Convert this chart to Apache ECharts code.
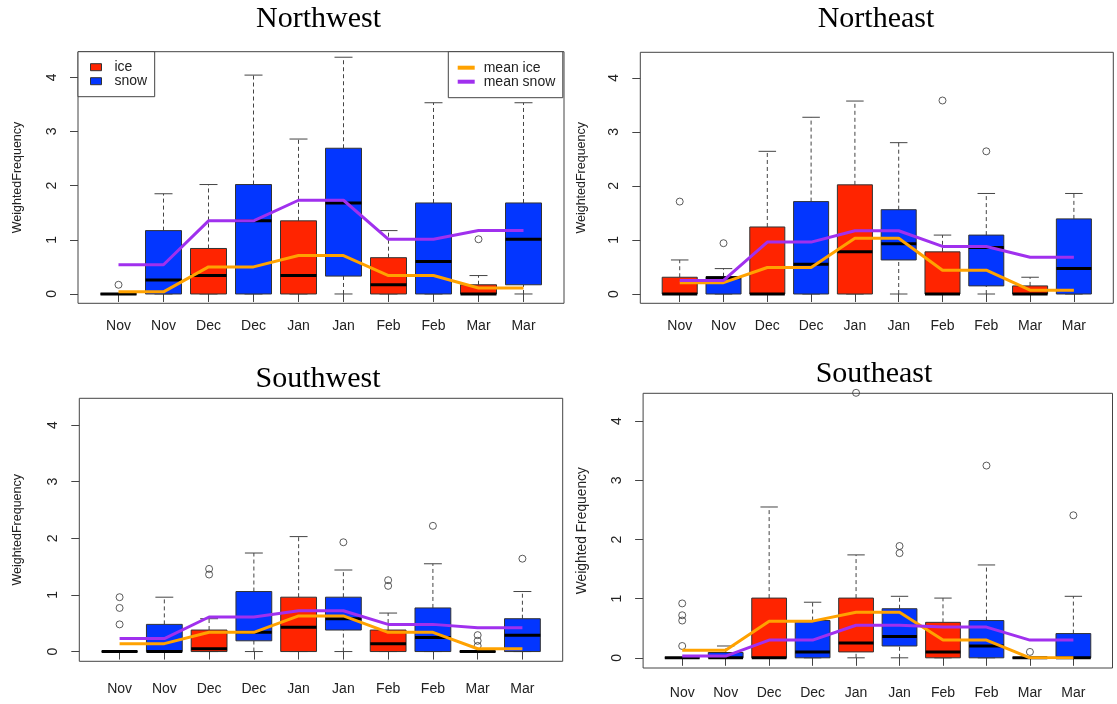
<!DOCTYPE html>
<html>
<head>
<meta charset="utf-8">
<script src="https://cdn.jsdelivr.net/npm/echarts@6/dist/echarts.min.js"></script>
<style>
  html, body { margin: 0; padding: 0; background: #fff; }
  #chart { width: 1117px; height: 704px; }
</style>
</head>
<body>
<div id="chart"></div>
<script>
// Box order alternates ice / snow for each month
const months = ['Nov', 'Nov', 'Dec', 'Dec', 'Jan', 'Jan', 'Feb', 'Feb', 'Mar', 'Mar'];
const yTicks = [0, 1, 2, 3, 4];

// Box stats per position: [lower whisker, Q1, median, Q3, upper whisker]
const nwBoxes = [
  [0, 0, 0, 0, 0],
  [0, 0, 0.26, 1.17, 1.85],
  [0, 0, 0.34, 0.84, 2.02],
  [0, 0, 1.35, 2.02, 4.04],
  [0, 0, 0.34, 1.35, 2.86],
  [0, 0.33, 1.68, 2.69, 4.37],
  [0, 0, 0.17, 0.67, 1.17],
  [0, 0, 0.60, 1.68, 3.53],
  [0, 0, 0, 0.17, 0.34],
  [0, 0.17, 1.01, 1.68, 3.53]
];
const nwOutliers = [[0, 0.17], [8, 1.01]];
const nwMeanIce = [0.04, 0.04, 0.50, 0.50, 0.71, 0.71, 0.34, 0.34, 0.11, 0.11];
const nwMeanSnow = [0.54, 0.54, 1.35, 1.35, 1.73, 1.73, 1.01, 1.01, 1.17, 1.17];

const neBoxes = [
  [0, 0, 0, 0.31, 0.63],
  [0, 0, 0.30, 0.32, 0.47],
  [0, 0, 0, 1.24, 2.64],
  [0, 0, 0.55, 1.71, 3.27],
  [0, 0, 0.78, 2.02, 3.57],
  [0, 0.63, 0.93, 1.56, 2.80],
  [0, 0, 0, 0.78, 1.09],
  [0, 0.15, 0.86, 1.09, 1.86],
  [0, 0, 0, 0.15, 0.31],
  [0, 0, 0.47, 1.39, 1.86]
];
const neOutliers = [[0, 1.71], [1, 0.94], [6, 3.58], [7, 2.64]];
const neMeanIce = [0.21, 0.21, 0.49, 0.49, 1.03, 1.03, 0.44, 0.44, 0.07, 0.07];
const neMeanSnow = [0.25, 0.25, 0.96, 0.96, 1.17, 1.17, 0.88, 0.88, 0.68, 0.68];

const swBoxes = [
  [0, 0, 0, 0, 0],
  [0, 0, 0, 0.48, 0.96],
  [0, 0, 0.05, 0.38, 0.58],
  [0, 0.19, 0.34, 1.06, 1.74],
  [0, 0, 0.43, 0.96, 2.03],
  [0, 0.38, 0.58, 0.96, 1.44],
  [0, 0, 0.14, 0.38, 0.68],
  [0, 0, 0.25, 0.77, 1.55],
  [0, 0, 0, 0, 0],
  [0, 0, 0.29, 0.58, 1.06]
];
const swOutliers = [[0, 0.48], [0, 0.77], [0, 0.96], [2, 1.36], [2, 1.46], [5, 1.93],
  [6, 1.16], [6, 1.26], [7, 2.22], [8, 0.10], [8, 0.19], [8, 0.29], [9, 1.64]];
const swMeanIce = [0.14, 0.14, 0.34, 0.34, 0.63, 0.63, 0.34, 0.34, 0.05, 0.05];
const swMeanSnow = [0.23, 0.23, 0.61, 0.61, 0.72, 0.72, 0.48, 0.48, 0.42, 0.42];

const seBoxes = [
  [0, 0, 0, 0, 0],
  [0, 0, 0, 0.09, 0.20],
  [0, 0, 0, 1.01, 2.55],
  [0, 0, 0.10, 0.63, 0.94],
  [0, 0.10, 0.25, 1.01, 1.74],
  [0, 0.20, 0.36, 0.83, 1.04],
  [0, 0, 0.10, 0.60, 1.01],
  [0, 0, 0.20, 0.63, 1.57],
  [0, 0, 0, 0, 0],
  [0, 0, 0, 0.41, 1.04]
];
const seOutliers = [[0, 0.20], [0, 0.63], [0, 0.72], [0, 0.92], [4, 4.48], [5, 1.77], [5, 1.89],
  [7, 3.25], [8, 0.10], [9, 2.41]];
const seMeanIce = [0.13, 0.13, 0.62, 0.62, 0.77, 0.77, 0.30, 0.30, 0, 0];
const seMeanSnow = [0.03, 0.03, 0.30, 0.30, 0.55, 0.55, 0.52, 0.52, 0.30, 0.30];

const regions = [
  { name: 'Northwest', ylab: 'WeightedFrequency', boxes: nwBoxes, outliers: nwOutliers, meanIce: nwMeanIce, meanSnow: nwMeanSnow },
  { name: 'Northeast', ylab: 'WeightedFrequency', boxes: neBoxes, outliers: neOutliers, meanIce: neMeanIce, meanSnow: neMeanSnow },
  { name: 'Southwest', ylab: 'WeightedFrequency', boxes: swBoxes, outliers: swOutliers, meanIce: swMeanIce, meanSnow: swMeanSnow },
  { name: 'Southeast', ylab: 'Weighted Frequency', boxes: seBoxes, outliers: seOutliers, meanIce: seMeanIce, meanSnow: seMeanSnow }
];

// Panel frames (plot box in pixels) and text placement
const layout = [
  { frame: { l: 78, r: 564, t: 51.7, b: 303.3 }, titleX: 318.5, titleTop: 4, yNameGap: 53.5, yNameSize: 12.5, xLabelMargin: 16 },
  { frame: { l: 640.3, r: 1113.3, t: 52.3, b: 303.3 }, titleX: 876, titleTop: 4, yNameGap: 52, yNameSize: 12.5, xLabelMargin: 16 },
  { frame: { l: 79.3, r: 562.7, t: 398.3, b: 661.3 }, titleX: 318, titleTop: 364, yNameGap: 55, yNameSize: 12.5, xLabelMargin: 21 },
  { frame: { l: 643.1, r: 1112.5, t: 393.3, b: 668 }, titleX: 874, titleTop: 359, yNameGap: 53.5, yNameSize: 13.8, xLabelMargin: 18 }
];

const ICE = '#ff2400';
const SNOW = '#0336ff';
const MEAN_ICE = '#ffa200';
const MEAN_SNOW = '#a030ee';
const SANS = 'Liberation Sans, Arial, sans-serif';
const SERIF = 'Liberation Serif, Times New Roman, serif';

// Plot box spans box positions 0.1..10.9 and values ylim c(0, 4.3) padded by 4%
const X_LO = 0.1, X_HI = 10.9;
const Y_LO = -0.172, Y_HI = 4.472;

function innerRect(f) {
  const sx = (f.r - f.l) / (X_HI - X_LO);
  const sy = (f.b - f.t) / (Y_HI - Y_LO);
  return {
    left: f.l + (0.5 - X_LO) * sx,
    right: f.l + (10.5 - X_LO) * sx,
    top: f.t + (Y_HI - yTicks[yTicks.length - 1]) * sy,
    bottom: f.b - (yTicks[0] - Y_LO) * sy
  };
}

function renderBox(params, api) {
  const i = api.value(0);
  const lo = api.value(1), q1 = api.value(2), med = api.value(3), q3 = api.value(4), hi = api.value(5);
  const half = api.size([1, 0])[0] * 0.4;
  const cap = half * 0.5;
  const cx = api.coord([i, 0])[0];
  const y = v => api.coord([i, v])[1];
  const fill = api.visual('color');
  const dashed = { stroke: '#444', lineWidth: 1, lineDash: [4, 3] };
  const solid = { stroke: '#444', lineWidth: 1 };
  return {
    type: 'group',
    children: [
      { type: 'line', shape: { x1: cx, y1: y(q3), x2: cx, y2: y(hi) }, style: dashed },
      { type: 'line', shape: { x1: cx, y1: y(lo), x2: cx, y2: y(q1) }, style: dashed },
      { type: 'line', shape: { x1: cx - cap, y1: y(hi), x2: cx + cap, y2: y(hi) }, style: solid },
      { type: 'line', shape: { x1: cx - cap, y1: y(lo), x2: cx + cap, y2: y(lo) }, style: solid },
      { type: 'rect', shape: { x: cx - half, y: y(q3), width: 2 * half, height: y(q1) - y(q3) },
        style: { fill: fill, stroke: '#333', lineWidth: 1 } },
      { type: 'line', shape: { x1: cx - half, y1: y(med), x2: cx + half, y2: y(med) },
        style: { stroke: '#000', lineWidth: 3 } }
    ]
  };
}

const grid = [], xAxis = [], yAxis = [], series = [], title = [];

regions.forEach((reg, k) => {
  const L = layout[k];
  const f = L.frame;
  const d = innerRect(f);
  const fi = 2 * k, di = 2 * k + 1;

  title.push({
    text: reg.name, left: L.titleX, top: L.titleTop, textAlign: 'center', padding: 0,
    textStyle: { fontFamily: SERIF, fontSize: 30, fontWeight: 'normal', color: '#000' }
  });

  // frame grid: draws the plot box and carries the axis title
  grid.push({ left: f.l, top: f.t, width: f.r - f.l, height: f.b - f.t, show: true,
    borderColor: '#444', borderWidth: 1, backgroundColor: 'transparent' });
  // data grid: category centres at 1..10, values 0..4
  grid.push({ left: d.left, top: d.top, width: d.right - d.left, height: d.bottom - d.top });

  xAxis.push({ gridIndex: fi, type: 'value', min: 0, max: 1, show: false });
  yAxis.push({
    gridIndex: fi, type: 'value', min: 0, max: 1,
    axisLine: { show: false }, axisTick: { show: false }, axisLabel: { show: false }, splitLine: { show: false },
    name: reg.ylab, nameLocation: 'middle', nameRotate: 90, nameGap: L.yNameGap,
    nameTextStyle: { fontFamily: SANS, fontSize: L.yNameSize, color: '#222' }
  });

  xAxis.push({
    gridIndex: di, type: 'category', data: months, boundaryGap: true,
    offset: f.b - d.bottom,
    axisLine: { show: false },
    axisTick: { show: true, alignWithLabel: true, length: 8, lineStyle: { color: '#444', width: 1 } },
    axisLabel: { interval: 0, margin: L.xLabelMargin, fontFamily: SANS, fontSize: 14, color: '#222' },
    splitLine: { show: false }
  });
  yAxis.push({
    gridIndex: di, type: 'value', min: yTicks[0], max: yTicks[yTicks.length - 1], interval: 1,
    offset: d.left - f.l,
    axisLine: { show: false },
    axisTick: { show: true, length: 8, lineStyle: { color: '#444', width: 1 } },
    axisLabel: { rotate: 90, margin: 19, fontFamily: SANS, fontSize: 14, color: '#222' },
    splitLine: { show: false }
  });

  const iceData = [], snowData = [];
  reg.boxes.forEach((b, i) => {
    (i % 2 === 0 ? iceData : snowData).push([i].concat(b));
  });

  series.push({
    type: 'custom', name: 'ice', xAxisIndex: di, yAxisIndex: di, data: iceData,
    itemStyle: { color: ICE }, renderItem: renderBox, silent: true, z: 2,
    encode: { x: 0, y: [1, 2, 3, 4, 5] }
  });
  series.push({
    type: 'custom', name: 'snow', xAxisIndex: di, yAxisIndex: di, data: snowData,
    itemStyle: { color: SNOW }, renderItem: renderBox, silent: true, z: 2,
    encode: { x: 0, y: [1, 2, 3, 4, 5] }
  });
  series.push({
    type: 'scatter', name: 'outliers', xAxisIndex: di, yAxisIndex: di, data: reg.outliers,
    symbol: 'circle', symbolSize: 7, clip: false, silent: true, z: 3,
    itemStyle: { color: 'rgba(0,0,0,0)', borderColor: '#333', borderWidth: 1 }
  });
  series.push({
    type: 'line', name: 'mean ice', xAxisIndex: di, yAxisIndex: di, data: reg.meanIce,
    symbol: 'none', color: MEAN_ICE, lineStyle: { color: MEAN_ICE, width: 3 }, silent: true, z: 4
  });
  series.push({
    type: 'line', name: 'mean snow', xAxisIndex: di, yAxisIndex: di, data: reg.meanSnow,
    symbol: 'none', color: MEAN_SNOW, lineStyle: { color: MEAN_SNOW, width: 3 }, silent: true, z: 4
  });
});

const nw = layout[0].frame;
const legend = [
  {
    left: nw.l, top: nw.t, orient: 'vertical', selectedMode: false,
    padding: [8.5, 7.5, 8.5, 12], itemGap: 0, itemWidth: 11, itemHeight: 7,
    backgroundColor: '#fff', borderColor: '#444', borderWidth: 1, borderRadius: 0,
    textStyle: { fontFamily: SANS, fontSize: 14, color: '#222', lineHeight: 14, padding: [0, 0, 0, 8] },
    data: [
      { name: 'ice', icon: 'rect', itemStyle: { color: ICE, borderColor: '#333', borderWidth: 1 } },
      { name: 'snow', icon: 'rect', itemStyle: { color: SNOW, borderColor: '#333', borderWidth: 1 } }
    ]
  },
  {
    left: 448.3, top: nw.t, orient: 'vertical', selectedMode: false,
    padding: [9, 7.5, 9, 9.4], itemGap: 0, itemWidth: 17, itemHeight: 4,
    backgroundColor: '#fff', borderColor: '#444', borderWidth: 1, borderRadius: 0,
    textStyle: { fontFamily: SANS, fontSize: 14, color: '#222', lineHeight: 13.5, padding: [0, 0, 0, 4] },
    data: [
      { name: 'mean ice', icon: 'rect', itemStyle: { color: MEAN_ICE, borderWidth: 0 } },
      { name: 'mean snow', icon: 'rect', itemStyle: { color: MEAN_SNOW, borderWidth: 0 } }
    ]
  }
];

const chart = echarts.init(document.getElementById('chart'), null, { renderer: 'canvas' });
chart.setOption({
  animation: false,
  backgroundColor: '#fff',
  title: title,
  legend: legend,
  grid: grid,
  xAxis: xAxis,
  yAxis: yAxis,
  series: series
});
</script>
</body>
</html>
